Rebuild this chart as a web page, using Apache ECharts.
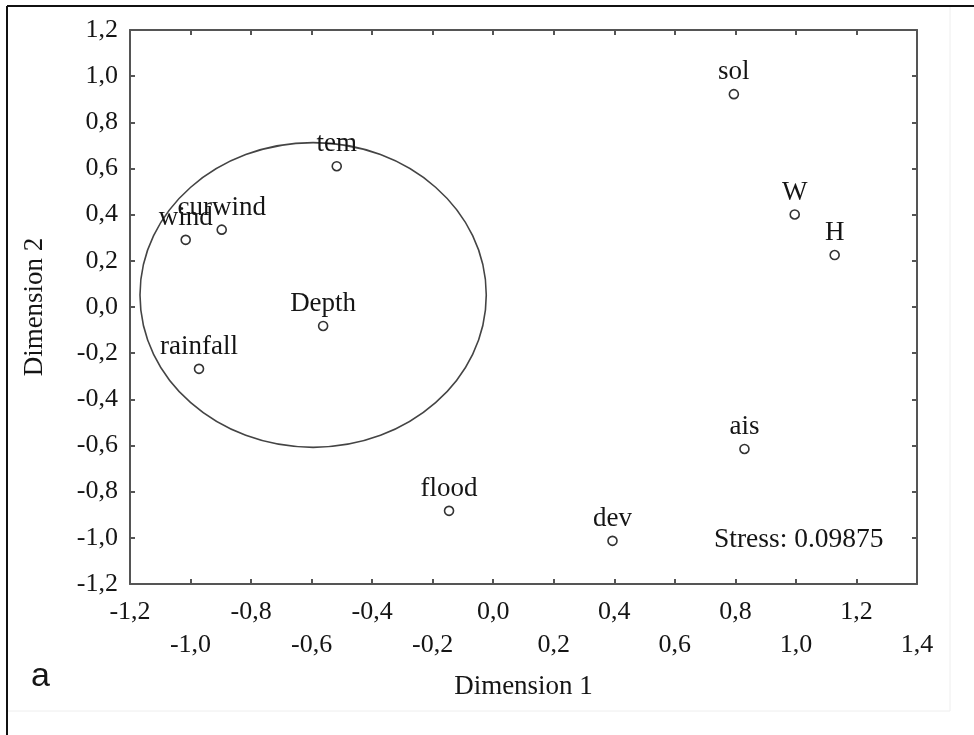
<!DOCTYPE html>
<html>
<head>
<meta charset="utf-8">
<script src="https://cdn.jsdelivr.net/npm/echarts@6/dist/echarts.min.js"></script>
<style>
  html, body { margin: 0; padding: 0; background: #fff; }
  #main { width: 974px; height: 735px; }
</style>
</head>
<body>
<div id="main"></div>
<script>
var myChart = echarts.init(document.getElementById('main'));

// MDS configuration
var names = ['tem', 'wind', 'curwind', 'Depth', 'rainfall', 'flood', 'dev', 'ais', 'sol', 'W', 'H'];
var dim1 = [-0.517, -1.016, -0.897, -0.562, -0.972, -0.146, 0.394, 0.830, 0.795, 0.996, 1.128];
var dim2 = [0.610, 0.291, 0.335, -0.082, -0.268, -0.883, -1.013, -0.615, 0.922, 0.401, 0.225];

// hand drawn ellipse around the cluster (data units)
var ellipseCenter = [-0.595, 0.052];
var ellipseRadius = [0.572, 0.66];

var xTicks = { min: -1.2, max: 1.4, step: 0.2 };
var yTicks = { min: -1.2, max: 1.2, step: 0.2 };

var serif = '"Liberation Serif", "Times New Roman", serif';
var ink = '#151515';

function fmt(v) {
    if (Math.abs(v) < 1e-9) v = 0;
    return v.toFixed(1).replace('.', ',');
}

var points = names.map(function (n, i) {
    return { name: n, value: [dim1[i], dim2[i]] };
});

var axisLine = { show: true, onZero: false, lineStyle: { color: '#555', width: 2 } };
var axisTick = { show: true, inside: true, length: 5, lineStyle: { color: '#555', width: 2 } };

option = {
    backgroundColor: '#fff',
    animation: false,
    grid: { left: 130, right: 57, top: 30, bottom: 151 },
    xAxis: [{
        type: 'value',
        position: 'bottom',
        min: xTicks.min, max: xTicks.max, interval: xTicks.step,
        axisLine: axisLine, axisTick: axisTick,
        splitLine: { show: false },
        axisLabel: {
            margin: 12,
            fontFamily: serif, fontSize: 26, lineHeight: 33, color: ink,
            formatter: function (v) {
                var k = Math.round((v - xTicks.min) / xTicks.step);
                return (k % 2 ? '\n' : '') + fmt(v);
            }
        },
        name: 'Dimension 1',
        nameLocation: 'middle',
        nameGap: 89,
        nameTextStyle: { fontFamily: serif, fontSize: 27, color: ink }
    }, {
        type: 'value',
        position: 'top',
        min: xTicks.min, max: xTicks.max, interval: xTicks.step,
        axisLine: axisLine, axisTick: axisTick,
        splitLine: { show: false },
        axisLabel: { show: false }
    }],
    yAxis: [{
        type: 'value',
        position: 'left',
        min: yTicks.min, max: yTicks.max, interval: yTicks.step,
        axisLine: axisLine, axisTick: axisTick,
        splitLine: { show: false },
        axisLabel: {
            margin: 12,
            fontFamily: serif, fontSize: 26, color: ink,
            formatter: fmt
        },
        name: 'Dimension 2',
        nameLocation: 'middle',
        nameGap: 82,
        nameTextStyle: { fontFamily: serif, fontSize: 27, color: ink }
    }, {
        type: 'value',
        position: 'right',
        min: yTicks.min, max: yTicks.max, interval: yTicks.step,
        axisLine: axisLine, axisTick: axisTick,
        splitLine: { show: false },
        axisLabel: { show: false }
    }],
    graphic: [
        { type: 'line', shape: { x1: 7, y1: 6, x2: 974, y2: 6 }, style: { stroke: '#111', lineWidth: 2 } },
        { type: 'line', shape: { x1: 7, y1: 6, x2: 7, y2: 735 }, style: { stroke: '#111', lineWidth: 2 } },
        { type: 'line', shape: { x1: 8, y1: 711, x2: 950, y2: 711 }, style: { stroke: '#eeeeee', lineWidth: 1 } },
        { type: 'line', shape: { x1: 950, y1: 7, x2: 950, y2: 711 }, style: { stroke: '#eeeeee', lineWidth: 1 } },
        {
            type: 'text', left: 714, top: 526,
            style: { text: 'Stress: 0.09875', font: '27.5px ' + serif, fill: ink }
        },
        {
            type: 'text', left: 31, top: 660,
            style: { text: 'a', font: '34px "Liberation Sans", Arial, sans-serif', fill: ink }
        }
    ],
    series: [
        {
            type: 'custom',
            silent: true,
            z: 1,
            data: [ellipseCenter],
            renderItem: function (params, api) {
                var c = api.coord(ellipseCenter);
                var s = api.size(ellipseRadius);
                return {
                    type: 'ellipse',
                    shape: { cx: c[0], cy: c[1], rx: s[0], ry: s[1] },
                    style: { fill: 'none', stroke: '#444', lineWidth: 1.6 }
                };
            }
        },
        {
            type: 'scatter',
            z: 3,
            symbol: 'circle',
            symbolSize: 9,
            itemStyle: { color: '#fff', borderColor: '#333', borderWidth: 1.6, opacity: 1 },
            label: {
                show: true,
                position: 'top',
                distance: 3,
                formatter: '{b}',
                fontFamily: serif, fontSize: 27, color: ink
            },
            data: points
        }
    ]
};

myChart.setOption(option);
</script>
</body>
</html>
